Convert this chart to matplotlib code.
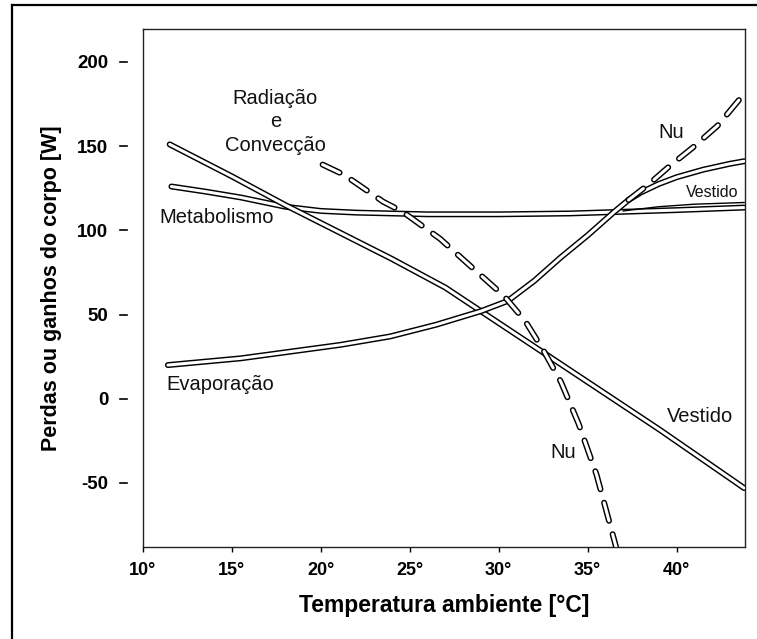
import numpy as np
import matplotlib
matplotlib.use("Agg")
import matplotlib.pyplot as plt
from matplotlib.lines import Line2D
from matplotlib.transforms import blended_transform_factory

plt.rcParams['lines.scale_dashes'] = False
plt.rcParams['axes.unicode_minus'] = False

# radiation + convection, clothed (solid) and naked (dashed)
rad_vest_t = [11.5, 15, 18, 21, 24, 27, 30, 33, 36, 39, 43.8]
rad_vest_w = [151, 132, 115, 99, 83, 66, 45, 24, 3, -18, -53]
rad_nu_t = [20.1, 21.3, 23.5, 24.6, 26.7, 28.6, 30.3, 31.5, 32.5, 33.5, 34.5, 35.5, 36.6]
rad_nu_w = [139, 133, 117, 111, 95, 77, 61, 46, 29, 10, -15, -45, -88]

# evaporation, common part then the two branches
evap_t = [11.4, 15.5, 18.3, 21.1, 23.9, 26.5, 29, 30.5, 32, 33.5, 35, 36.5, 37.3]
evap_w = [20, 24, 28, 32, 37, 44, 52, 58, 70, 84, 97, 111, 118]
evap_nu_t = [37.3, 38.4, 39.6, 40.9, 42.3, 43.8]
evap_nu_w = [118, 127, 138, 149, 162, 181]
evap_vest_t = [37.3, 38.0, 39, 40, 41.5, 43, 43.8]
evap_vest_w = [118, 122.5, 127.5, 131.5, 136, 139.5, 141]

# metabolism
metab_t = [11.6, 13.5, 15.5, 18, 20, 22, 26, 30, 34, 37, 40, 43.8]
metab_w = [126, 123, 119.5, 114, 111.5, 110.5, 109.5, 109.5, 110, 111, 112, 113.5]
metab_vest_t = [37, 39, 41, 43.8]
metab_vest_w = [111.5, 114, 115.5, 116.5]

xticks = [10, 15, 20, 25, 30, 35, 40]
xticklabels = ['10°', '15°', '20°', '25°', '30°', '35°', '40°']
yticks = [-50, 0, 50, 100, 150, 200]

SANS = ['Liberation Sans', 'DejaVu Sans']

OUT = 4.3   # outer (black) width, pt
INN = 2.2   # inner (white) width, pt


def tube(ax, x, y, dashed=False, zorder=3):
    # hollow line: wide black stroke with a thin white core
    if dashed:
        ls = (0, (13.5, 10.0))
        ax.plot(x, y, color='black', lw=OUT, ls=ls, dash_capstyle='round',
                zorder=zorder)
        ax.plot(x, y, color='white', lw=INN, ls=ls, dash_capstyle='round',
                zorder=zorder + 0.5)
    else:
        ax.plot(x, y, color='black', lw=OUT, solid_capstyle='round',
                solid_joinstyle='round', zorder=zorder)
        ax.plot(x, y, color='white', lw=INN, solid_capstyle='round',
                solid_joinstyle='round', zorder=zorder + 0.5)


fig = plt.figure(figsize=(7.57, 6.39), dpi=100)
ax = fig.add_axes([143 / 757, 1 - 547 / 639, 602 / 757, 518 / 639])

tube(ax, metab_t, metab_w, zorder=2)
ax.plot(metab_vest_t, metab_vest_w, color='black', lw=1.0, zorder=2.8)
tube(ax, rad_vest_t, rad_vest_w, zorder=3)
tube(ax, evap_t, evap_w, zorder=4)
tube(ax, evap_vest_t, evap_vest_w, zorder=4)
tube(ax, evap_nu_t, evap_nu_w, dashed=True, zorder=5)
tube(ax, rad_nu_t, rad_nu_w, dashed=True, zorder=6)

ax.set_xlim(10, 43.85)
ax.set_ylim(-88, 219.5)

ax.set_xticks(xticks)
ax.set_xticklabels(xticklabels)
ax.set_yticks(yticks)
ax.tick_params(axis='x', direction='out', length=3.5, width=1, pad=7, labelsize=13)
ax.tick_params(axis='y', length=0, pad=25, labelsize=13.5)
for lab in ax.get_xticklabels() + ax.get_yticklabels():
    lab.set_family(SANS)
    lab.set_fontweight('bold')

# detached y tick dashes
tr = blended_transform_factory(ax.transAxes, ax.transData)
for yv in yticks:
    ax.add_line(Line2D([-0.038, -0.027], [yv, yv], transform=tr, color='black',
                       lw=1.2, clip_on=False))

for sp in ax.spines.values():
    sp.set_linewidth(1.0)
    sp.set_color('#222222')

ax.set_xlabel('Temperatura ambiente [°C]', family=SANS, fontweight='bold',
              fontsize=16.5, labelpad=11)
ax.set_ylabel('Perdas ou ganhos do corpo [W]', family=SANS, fontweight='bold',
              fontsize=15.5, labelpad=11)

lab_kw = dict(family=SANS, fontsize=14.5, ha='center', va='center', color='#111111')
ax.text(17.45, 164.3, 'Radiação\ne\nConvecção', linespacing=1.3, **lab_kw)
ax.text(14.16, 107.7, 'Metabolismo', **lab_kw)
ax.text(14.33, 8.3, 'Evaporação', **lab_kw)
ax.text(39.7, 158.3, 'Nu', **lab_kw)
ax.text(33.6, -32, 'Nu', **lab_kw)
ax.text(41.3, -10.7, 'Vestido', **lab_kw)
ax.text(42.0, 122.6, 'Vestido', family=SANS, fontsize=11.5, ha='center', va='center',
        color='#111111', zorder=10)

# outer frame (top and left edges)
fig.add_artist(Line2D([12 / 757, 12 / 757], [0, 1 - 5 / 639], transform=fig.transFigure,
                      color='black', lw=1.6))
fig.add_artist(Line2D([12 / 757, 1], [1 - 5 / 639, 1 - 5 / 639], transform=fig.transFigure,
                      color='black', lw=1.6))

fig.savefig('out.png', dpi=100, facecolor='white')
